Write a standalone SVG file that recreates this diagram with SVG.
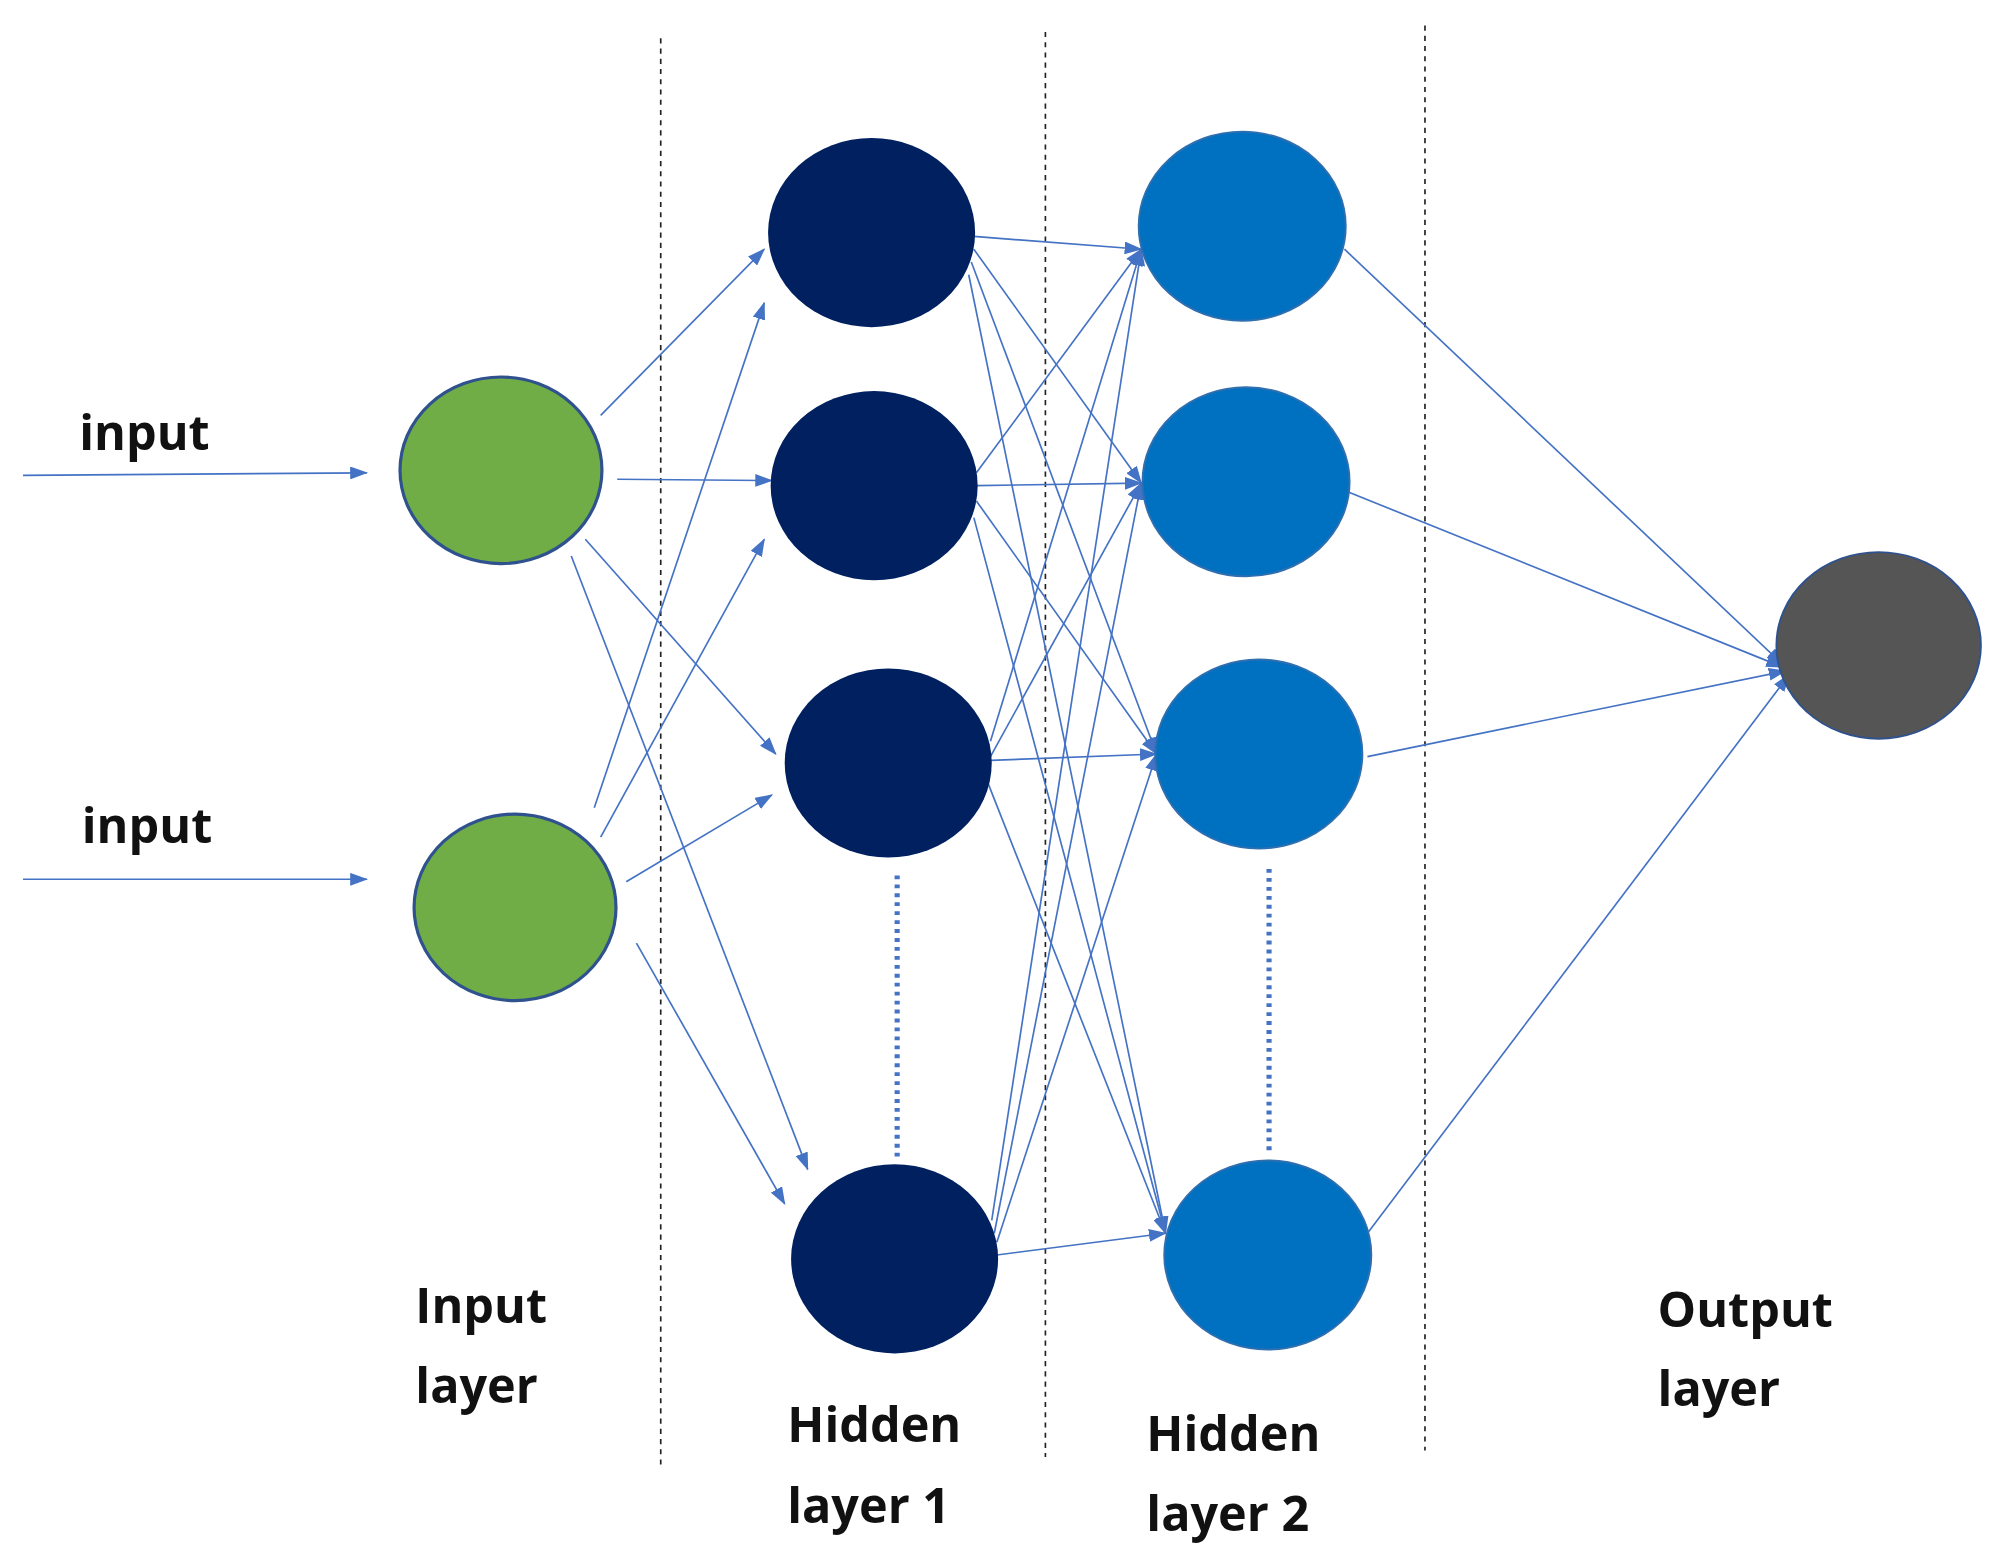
<svg xmlns="http://www.w3.org/2000/svg" width="2004" height="1562" viewBox="0 0 2004 1562">
<defs>
<marker id="ah" viewBox="0 0 14 10" refX="13" refY="5" markerWidth="14" markerHeight="10" markerUnits="userSpaceOnUse" orient="auto"><path d="M0,0 L14,5 L0,10 z" fill="#4472C4"/></marker>
<style>
.e{stroke:#4472C4;stroke-width:1.3;fill:none;marker-end:url(#ah)}
.sep{stroke:#222;stroke-width:1.3;stroke-dasharray:4 4}
.dot{stroke:#4472C4;stroke-width:4;stroke-dasharray:3 4}
.t{font-family:"Open Sans","DejaVu Sans",sans-serif;font-weight:bold;font-size:38px;fill:#111}
.in{fill:#70AD47;stroke:#2F528F;stroke-width:2.5}
.h1{fill:#002060}
.h2{fill:#0070C0;stroke:#2F6FB0;stroke-width:1.5}
.o{fill:#555555;stroke:#2F528F;stroke-width:1.5}
</style>
</defs>
<rect width="2004" height="1562" fill="#fff"/>
<g transform="scale(1.278)">
<g id="separators">
<line class="sep" x1="517" y1="30" x2="517" y2="1150"/>
<line class="sep" x1="818" y1="25" x2="818" y2="1140"/>
<line class="sep" x1="1115" y1="20" x2="1115" y2="1135"/>
<line class="dot" x1="702" y1="685" x2="702" y2="905"/>
<line class="dot" x1="993" y1="680" x2="993" y2="900"/>
</g>
<g id="connectors">
<line class="e" x1="18" y1="372" x2="287" y2="370"/>
<line class="e" x1="18" y1="688" x2="287" y2="688"/>
<line class="e" x1="470" y1="325" x2="598" y2="195"/>
<line class="e" x1="483" y1="375" x2="604" y2="376"/>
<line class="e" x1="458" y1="422" x2="607" y2="590"/>
<line class="e" x1="447" y1="435" x2="632" y2="915"/>
<line class="e" x1="465" y1="632" x2="598" y2="237"/>
<line class="e" x1="470" y1="655" x2="598" y2="422"/>
<line class="e" x1="490" y1="690" x2="604" y2="622"/>
<line class="e" x1="498" y1="738" x2="614" y2="942"/>
<line class="e" x1="762" y1="185" x2="893" y2="195"/>
<line class="e" x1="762" y1="195" x2="893" y2="378"/>
<line class="e" x1="760" y1="205" x2="905" y2="590"/>
<line class="e" x1="758" y1="215" x2="912" y2="965"/>
<line class="e" x1="764" y1="370" x2="893" y2="195"/>
<line class="e" x1="764" y1="380" x2="893" y2="378"/>
<line class="e" x1="764" y1="392" x2="905" y2="590"/>
<line class="e" x1="762" y1="405" x2="912" y2="965"/>
<line class="e" x1="775" y1="580" x2="893" y2="195"/>
<line class="e" x1="775" y1="592" x2="893" y2="378"/>
<line class="e" x1="775" y1="595" x2="905" y2="590"/>
<line class="e" x1="772" y1="610" x2="912" y2="965"/>
<line class="e" x1="776" y1="955" x2="893" y2="195"/>
<line class="e" x1="778" y1="965" x2="893" y2="378"/>
<line class="e" x1="780" y1="972" x2="905" y2="590"/>
<line class="e" x1="780" y1="982" x2="912" y2="965"/>
<line class="e" x1="1052" y1="195" x2="1395" y2="520"/>
<line class="e" x1="1055" y1="385" x2="1395" y2="522"/>
<line class="e" x1="1070" y1="592" x2="1397" y2="525"/>
<line class="e" x1="1070" y1="965" x2="1400" y2="528"/>
</g>
<g id="input1"><ellipse class="in" cx="392" cy="368" rx="79" ry="73"/></g>
<g id="input2"><ellipse class="in" cx="403" cy="710" rx="79" ry="73"/></g>
<g id="h1a"><ellipse class="h1" cx="682" cy="182" rx="81" ry="74"/></g>
<g id="h1b"><ellipse class="h1" cx="684" cy="380" rx="81" ry="74"/></g>
<g id="h1c"><ellipse class="h1" cx="695" cy="597" rx="81" ry="74"/></g>
<g id="h1d"><ellipse class="h1" cx="700" cy="985" rx="81" ry="74"/></g>
<g id="h2a"><ellipse class="h2" cx="972" cy="177" rx="81" ry="74"/></g>
<g id="h2b"><ellipse class="h2" cx="975" cy="377" rx="81" ry="74"/></g>
<g id="h2c"><ellipse class="h2" cx="985" cy="590" rx="81" ry="74"/></g>
<g id="h2d"><ellipse class="h2" cx="992" cy="982" rx="81" ry="74"/></g>
<g id="output"><ellipse class="o" cx="1470" cy="505" rx="80" ry="73"/></g>
<g id="labels">
<text class="t" x="62" y="352">input</text>
<text class="t" x="64" y="660">input</text>
<text class="t" x="325" y="1035">Input</text>
<text class="t" x="325" y="1098">layer</text>
<text class="t" x="616" y="1128">Hidden</text>
<text class="t" x="616" y="1192">layer 1</text>
<text class="t" x="897" y="1135">Hidden</text>
<text class="t" x="897" y="1198">layer 2</text>
<text class="t" x="1297" y="1038">Output</text>
<text class="t" x="1297" y="1100">layer</text>
</g>
</g>
</svg>
